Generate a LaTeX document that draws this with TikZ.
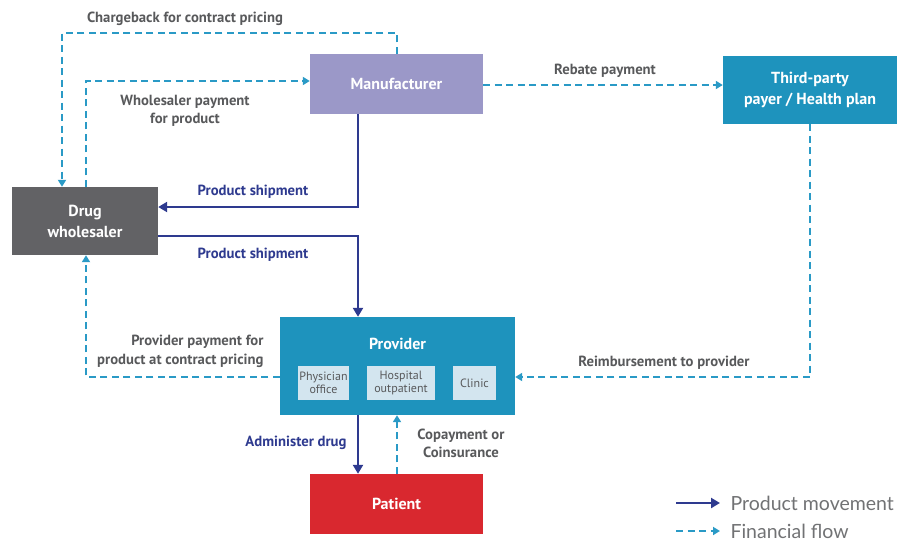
\documentclass[tikz,border=0pt]{standalone}
\usepackage{fontspec}
\setmainfont{PT Sans}
\newfontfamily\legendfont{Lato}
\usetikzlibrary{arrows.meta}
\definecolor{mfg}{HTML}{9B98C8}
\definecolor{tpb}{HTML}{1E93BD}
\definecolor{whs}{HTML}{626265}
\definecolor{pat}{HTML}{D9282F}
\definecolor{subb}{HTML}{D3E5EF}
\definecolor{prod}{HTML}{2E3A8F}
\definecolor{fin}{HTML}{2A9AC6}
\definecolor{lbl}{HTML}{58595B}
\tikzset{
  box/.style={draw=none, minimum width=#1, inner sep=0pt, text=white, font=\bfseries\fontsize{16}{21}\selectfont, align=center},
  subbox/.style={fill=subb, inner sep=0pt, minimum height=34pt, text=lbl, font=\fontsize{12}{13}\selectfont, align=center},
  prodline/.style={draw=prod, line width=2.6pt, -{Triangle[length=9pt,width=10pt]}},
  finline/.style={draw=fin, line width=1.8pt, dash pattern=on 7pt off 4.5pt, -{Triangle[length=7pt,width=8pt]}},
  flbl/.style={text=lbl, font=\bfseries\fontsize{14.7}{18.5}\selectfont, align=center},
  plbl/.style={text=prod, font=\bfseries\fontsize{14.7}{18.5}\selectfont, align=center},
  leg/.style={text=lbl!85, font=\legendfont\fontsize{19.5}{20}\selectfont, anchor=west}
}
\begin{document}
\begin{tikzpicture}[x=1pt,y=-1pt]
\useasboundingbox (0,0) rectangle (910,541);
% boxes
\node[box=173pt, fill=mfg, minimum height=60pt] (mfg) at (396.5,84) {Manufacturer};
\node[box=174pt, fill=tpb, minimum height=68pt] (tpp) at (810,90) {Third-party\\payer / Health plan};
\node[box=146pt, fill=whs, minimum height=68pt] (whs) at (85,221) {Drug\\wholesaler};
\node[box=235pt, fill=tpb, minimum height=98pt] (prv) at (397.5,366) {};
\node[text=white, font=\bfseries\fontsize{16}{20}\selectfont] (prvt) at (397.5,344) {Provider};
\node[subbox, minimum width=51pt] (phy) at (323.5,383) {Physician\\office};
\node[subbox, minimum width=68pt] (hos) at (401,383) {Hospital\\outpatient};
\node[subbox, minimum width=43pt] (cli) at (474.5,383) {Clinic};
\node[box=173pt, fill=pat, minimum height=60pt] (pat) at (396.5,504) {Patient};
% coordinates
\coordinate (cbA) at (397,33);
\coordinate (cbB) at (62,33);
\coordinate (wpA) at (86,81);
\coordinate (psA) at (358,207);
\coordinate (psB) at (358,236);
\coordinate (ppA) at (86,377);
\coordinate (rbA) at (810,377);
% financial flows
\draw[finline] (mfg.north -| cbA) -- (cbA) -- (cbB) -- (whs.north -| cbB);
\draw[finline] (whs.north -| wpA) -- (wpA) -- (mfg.west |- wpA);
\draw[finline] (mfg.east |- 0,85) -- (tpp.west |- 0,85);
\draw[finline] (prv.west |- ppA) -- (ppA) -- (whs.south -| ppA);
\draw[finline] (tpp.south -| rbA) -- (rbA) -- (prv.east |- rbA);
\draw[finline] (pat.north -| 397,0) -- (prv.south -| 397,0);
% product flows
\draw[prodline] (mfg.south -| psA) -- (psA) -- (whs.east |- psA);
\draw[prodline] (whs.east |- psB) -- (psB) -- (prv.north -| psB);
\draw[prodline] (prv.south -| 358,0) -- (pat.north -| 358,0);
% labels
\node[flbl] (l1) at (185,18.5) {Chargeback for contract pricing};
\node[flbl] (l2) at (185,111) {Wholesaler payment\\for product};
\node[flbl] (l3) at (605,70.5) {Rebate payment};
\node[plbl] (l4) at (253,191.5) {Product shipment};
\node[plbl] (l5) at (253,254.5) {Product shipment};
\node[flbl, align=right, anchor=east] (l6) at (267,351.5) {Provider payment for\\product at contract pricing};
\node[flbl] (l7) at (664,362.5) {Reimbursement to provider};
\node[plbl] (l8) at (296,442.5) {Administer drug};
\node[flbl] (l9) at (461,443.5) {Copayment or\\Coinsurance};
% legend
\coordinate (lgA) at (676,503);
\coordinate (lgB) at (720,503);
\coordinate (lgC) at (676,531);
\coordinate (lgD) at (720,531);
\draw[prodline, line width=2.4pt] (lgA) -- (lgB);
\draw[finline] (lgC) -- (lgD);
\node[leg] (lg1) at (727,503) {Product movement};
\node[leg] (lg2) at (727,531) {Financial flow};
\end{tikzpicture}
\end{document}
